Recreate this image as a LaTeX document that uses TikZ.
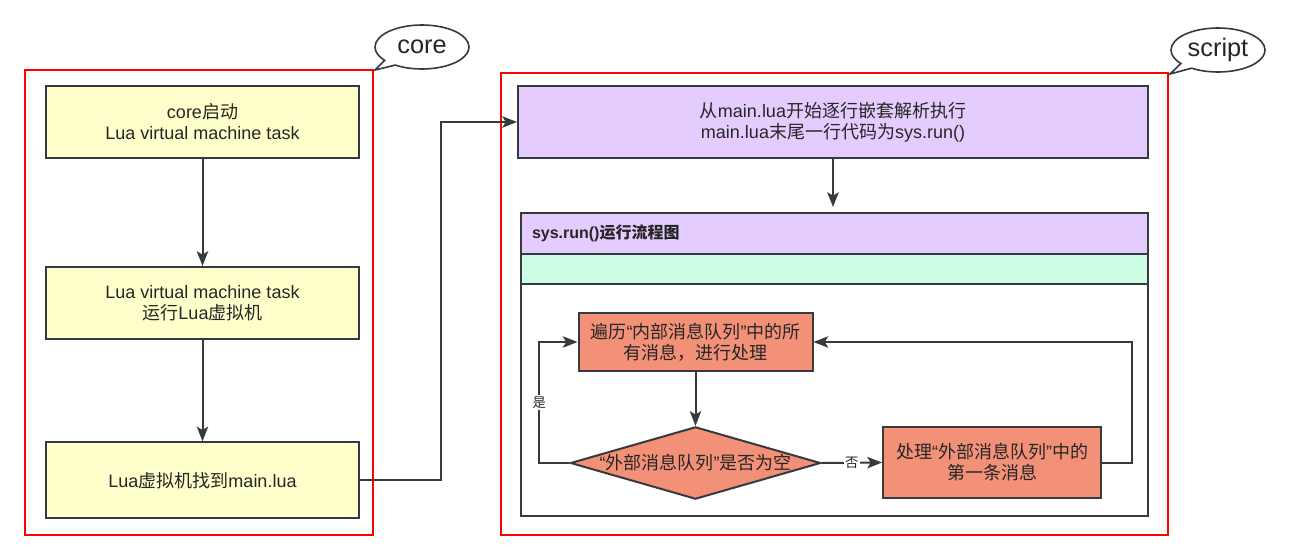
\documentclass[tikz,border=0pt]{standalone}
\usepackage{fontspec}
\setmainfont{Liberation Sans}
\newfontfamily\zhfont{Noto Sans CJK SC}
\newcommand{\zh}[1]{{\zhfont #1}}
\newcommand{\boxfont}{\fontsize{13.5}{15.75}\selectfont}
\usepackage{tikz}
\usetikzlibrary{shapes.geometric, shapes.callouts, arrows.meta, positioning}
\definecolor{edgegray}{RGB}{54,57,61}
\definecolor{coreyellow}{RGB}{255,255,204}
\definecolor{lualilac}{RGB}{229,204,255}
\definecolor{laneteal}{RGB}{204,255,230}
\definecolor{msgsalmon}{RGB}{243,145,120}
\tikzset{
  corebox/.style={rectangle, draw=edgegray, fill=coreyellow, line width=1.5pt,
    minimum width=234.75pt, minimum height=54pt, align=center, font=\boxfont, text=black!85},
  luabox/.style={rectangle, draw=edgegray, fill=lualilac, line width=1.5pt,
    minimum width=472.5pt, minimum height=54pt, align=center, font=\boxfont, text=black!85},
  lanebox/.style={rectangle, draw=edgegray, fill=white, line width=1.5pt, outer sep=0pt,
    minimum width=470.25pt, minimum height=227.25pt},
  lanehead/.style={rectangle, draw=edgegray, fill=lualilac, line width=1.5pt, outer sep=0pt,
    minimum width=470.25pt, minimum height=30.75pt, inner xsep=8.25pt,
    text width=453.75pt, align=left, font=\fontsize{12}{14}\selectfont\bfseries, text=black!85},
  laneband/.style={rectangle, draw=edgegray, fill=laneteal, line width=1.5pt, outer sep=0pt,
    minimum width=470.25pt, minimum height=22.5pt},
  msgbox/.style={rectangle, draw=edgegray, fill=msgsalmon, line width=1.5pt,
    align=center, font=\boxfont, text=black!85},
  msgcheck/.style={diamond, draw=edgegray, fill=msgsalmon, line width=1.5pt,
    aspect=3.46, inner sep=0pt, align=center, font=\boxfont, text=black!85},
  bubble/.style={ellipse callout, draw=edgegray, fill=white, line width=1.2pt,
    minimum width=70.5pt, minimum height=33pt, inner sep=0pt, callout pointer arc=18,
    font=\fontsize{19}{22}\selectfont, text=black!85},
  redframe/.style={draw=red, line width=1.4pt},
  arr/.style={-{Stealth[length=11pt, width=8.5pt, inset=2.5pt]}, line width=1.5pt, draw=edgegray},
  lbl/.style={fill=white, inner sep=1pt, font=\fontsize{10}{12}\selectfont\zhfont, text=black!85},
}
\begin{document}
\begin{tikzpicture}[x=0.75pt, y=-0.75pt]
\useasboundingbox (0,0) rectangle (1289,560);

% ── frames ──
\draw[redframe] (25,70) rectangle (373,535);
\draw[redframe] (501,73) rectangle (1168,535);
\coordinate (coretip) at (375,70);
\coordinate (scripttip) at (1170,74);
\node[bubble, callout absolute pointer={(coretip)}] (corebub) at (422,47) {core};
\node[bubble, callout absolute pointer={(scripttip)}] (scriptbub) at (1218,50) {script};

% ── core column ──
\node[corebox] (corestart) at (202.5,122) {core\zh{启动}\\Lua virtual machine task};
\node[corebox, below=80.25pt of corestart] (luavm) {Lua virtual machine task\\\zh{运行}Lua\zh{虚拟机}};
\node[corebox, minimum height=57pt, below=76pt of luavm] (findmain) {Lua\zh{虚拟机找到}main.lua};

% ── script column ──
\node[luabox] (parse) at (833,122) {\zh{从}main.lua\zh{开始逐行嵌套解析执行}\\main.lua\zh{末尾一行代码为}sys.run()};
\node[lanebox, anchor=north west] (lane) at (521,213) {};
\node[lanehead, anchor=north west] (lanehead) at (lane.north west) {sys.run()\zh{运行流程图}};
\node[laneband, anchor=north west] (laneband) at (lanehead.south west) {};

% ── sys.run() loop ──
\node[msgbox, minimum width=175.5pt, minimum height=43.5pt] (traverse) at (695.5,342)
  {\zh{遍历}“\zh{内部消息队列}”\zh{中的所}\\\zh{有消息，进行处理}};
\node[msgcheck] (isempty) at (695.5,463) {“\zh{外部消息队列}”\zh{是否为空}};
\node[msgbox, minimum width=163.5pt, minimum height=53.25pt] (handle) at (992,462.5)
  {\zh{处理}“\zh{外部消息队列}”\zh{中的}\\\zh{第一条消息}};

% ── arrows ──
\draw[arr] (corestart) -- (luavm);
\draw[arr] (luavm) -- (findmain);
\draw[arr] (findmain.east) -- ++(81,0) |- (parse.west);
\draw[arr, shorten >=4.5pt] (parse.south) -- (parse.south |- lane.north);
\draw[arr] (traverse) -- (isempty);
\draw[arr] (isempty.west) -- ++(-30,0) |- node[lbl, pos=0.25]{是} (traverse.west);
\draw[arr] (isempty.east) -- node[lbl]{否} (handle.west);
\draw[arr] (handle.east) -- ++(30,0) |- (traverse.east);

\end{tikzpicture}
\end{document}
